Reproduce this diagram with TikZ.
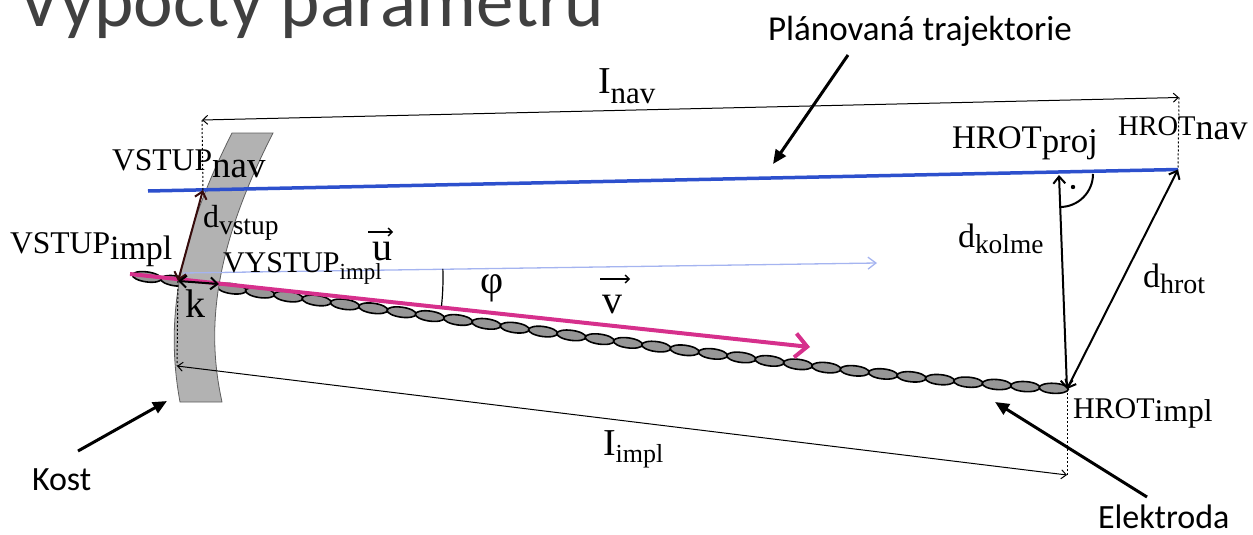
\documentclass[tikz,border=0pt]{standalone}
\usepackage{fontspec}
\setmainfont{Liberation Serif}
\newfontfamily\calibri{Carlito}
\usetikzlibrary{arrows.meta,decorations.markings,calc}

\definecolor{navblue}{RGB}{45,80,205}
\definecolor{vecpink}{RGB}{214,48,140}
\definecolor{ulight}{RGB}{165,180,240}
\definecolor{bonegray}{RGB}{178,178,178}
\definecolor{boneedge}{RGB}{95,95,95}
\definecolor{beadgray}{RGB}{150,150,150}
\definecolor{titlegray}{RGB}{64,64,64}
\definecolor{darkred}{RGB}{55,12,12}

% main symbol, its size, subscript, its size, drop of the subscript (pt)
\newcommand\lbl[5]{{\fontsize{#2}{#2}\selectfont #1}\raisebox{-#5pt}{\fontsize{#4}{#4}\selectfont #3}}
\newcommand\fsz[1]{\fontsize{#1}{#1}\selectfont}

\begin{document}
\begin{tikzpicture}[x=1pt,y=-1pt,
  lab/.style={anchor=base west,inner sep=0pt,outer sep=0pt},
  sans/.style={anchor=base west,inner sep=0pt,outer sep=0pt,font=\calibri\fsz{34}},
  dim/.style={line width=1pt,{Straight Barb[length=5pt,width=9pt]}-{Straight Barb[length=5pt,width=9pt]}},
  darr/.style={line width=2pt,{Straight Barb[length=7pt,width=12pt]}-{Straight Barb[length=7pt,width=12pt]}},
  dotline/.style={line width=1pt,dash pattern=on 2pt off 2pt},
  bead/.style={draw=black,line width=1.6pt,fill=beadgray},
  bone/.style={draw=boneedge,line width=0.8pt,fill=bonegray},
  navline/.style={draw=navblue,line width=3.5pt},
  uline/.style={draw=ulight,line width=1.3pt,-{Straight Barb[length=8pt,width=12pt]}},
  pinkvec/.style={draw=vecpink,line width=4pt,-{Straight Barb[length=12pt,width=24pt]}},
  callout/.style={line width=3pt,-{Triangle[length=14pt,width=12pt]}},
  vecbar/.style={line width=1.3pt,-{Straight Barb[length=4pt,width=8pt]}}]

\useasboundingbox (0,0) rectangle (1253,535);
\clip (0,0) rectangle (1253,535);

% heading, partly above the frame
\node[lab,text=titlegray,font=\calibri\fsz{75}] (title) at (19,27) {Výpočty parametrů};

% key points
\coordinate (navstart) at (148,191);
\coordinate (vstupnav) at (203,190);
\coordinate (hrotnav) at (1178,169.5);
\coordinate (hrotproj) at (1059,175);
\coordinate (vstupimpl) at (178,281);
\coordinate (hrotimpl) at (1067,389);
\coordinate (inavL) at (202,120);
\coordinate (inavR) at (1179,97.5);
\coordinate (iimplL) at (177,366);
\coordinate (iimplR) at (1067,475);
\coordinate (kend) at (219,284);
\coordinate (ustart) at (183,273);
\coordinate (uend) at (877,263);
\coordinate (pstart) at (130,274);
\coordinate (pend) at (810,347);

% electrode: a chain of beads along its curve
\path[postaction={decorate},decoration={markings,
    mark=between positions 0.0149 and 0.99 step 0.03032 with
    {\draw[bead] (0,0) ellipse [x radius=14.6pt,y radius=5pt];}}]
  (133,275) .. controls (600,339.6) and (880,380) .. (hrotimpl);

% bone
\draw[bone] (232,133) -- (273,133) .. controls (216,245) and (205,325) .. (222,402)
  -- (180,402) .. controls (165,320) and (178,240) .. (232,133) -- cycle;

% planned trajectory
\draw[navline] (navstart) -- (hrotnav);

% vectors u and v
\draw[uline] (ustart) -- (uend);
\draw[pinkvec] (pstart) -- (pend);

% angle phi
\draw[line width=1.2pt] (180,278) ++(-2:263) arc[start angle=-2,end angle=6.1,radius=263];

% extension lines
\draw[dotline] (inavL) -- (vstupnav);
\draw[dotline] (inavR) -- (hrotnav);
\draw[dotline] (vstupimpl) -- (iimplL);
\draw[dotline] (hrotimpl) -- (iimplR);

% lengths
\draw[dim] (inavL) -- (inavR);
\draw[dim] (iimplL) -- (iimplR);

% distances
\draw[darr,darkred] (vstupimpl) -- (vstupnav);
\draw[darr] (vstupimpl) -- (kend);
\draw[darr] (hrotimpl) -- (hrotproj);
\draw[darr] (hrotimpl) -- (hrotnav);

% right angle mark
\draw[line width=2pt] (1093,174) arc[start angle=0,end angle=90,radius=33];
\fill (1073,187) circle (2.2pt);

% labels
\node[lab] (Lvstupnav) at (112,170) {\lbl{VSTUP}{31.6}{nav}{37}{7}};
\node[lab] (Lvstupimpl) at (10,253) {\lbl{VSTUP}{31.6}{impl}{34}{6}};
\node[lab] (Ldvstup) at (203,227) {\lbl{d}{32}{vstup}{27.5}{7}};
\node[lab] (Lvystup) at (223,272) {\lbl{VYSTUP}{30}{impl}{23}{7}};
\node[lab,font=\fsz{40}] (Lu) at (372,260) {u};
\node[lab,font=\fsz{40}] (Lv) at (602,313) {v};
\node[lab,font=\fsz{40}] (Lk) at (185,317) {k};
\node[inner sep=0pt,font=\fsz{40}] (Lphi) at (492,288) {φ};
\node[lab] (Linav) at (598,93) {\lbl{I}{38}{nav}{31}{10}};
\node[lab] (Lproj) at (952,148) {\lbl{HROT}{33}{proj}{34.8}{4}};
\node[lab] (Lhnav) at (1118,135) {\lbl{HROT}{28.5}{nav}{36}{5}};
\node[lab] (Lkolme) at (958,247) {\lbl{d}{34}{kolme}{27.4}{6}};
\node[lab] (Lhrot) at (1143,287) {\lbl{d}{34}{hrot}{28}{6}};
\node[lab] (Lhimpl) at (1073,418) {\lbl{HROT}{30}{impl}{31.6}{3}};
\node[lab] (Liimpl) at (603,455) {\lbl{I}{38}{impl}{26}{7}};

% vector bars over u and v
\draw[vecbar] ($(Lu.base west)+(-4,-28)$) -- ($(Lu.base east)+(1,-28)$);
\draw[vecbar] ($(Lv.base west)+(-2,-34)$) -- ($(Lv.base east)+(8,-34)$);

% callouts
\node[sans,font=\calibri\fsz{35}] (Ltraj) at (768,41) {Plánovaná trajektorie};
\node[sans] (Lkost) at (32,490) {Kost};
\node[sans] (Lelek) at (1098,528) {Elektroda};
\coordinate (trajtail) at (848,55);
\coordinate (trajtip) at (773,164);
\coordinate (kosttail) at (78,451);
\coordinate (kosttip) at (167,401);
\coordinate (elektail) at (1147,497);
\coordinate (elektip) at (995,402);
\draw[callout] (trajtail) -- (trajtip);
\draw[callout] (kosttail) -- (kosttip);
\draw[callout] (elektail) -- (elektip);

\end{tikzpicture}
\end{document}
